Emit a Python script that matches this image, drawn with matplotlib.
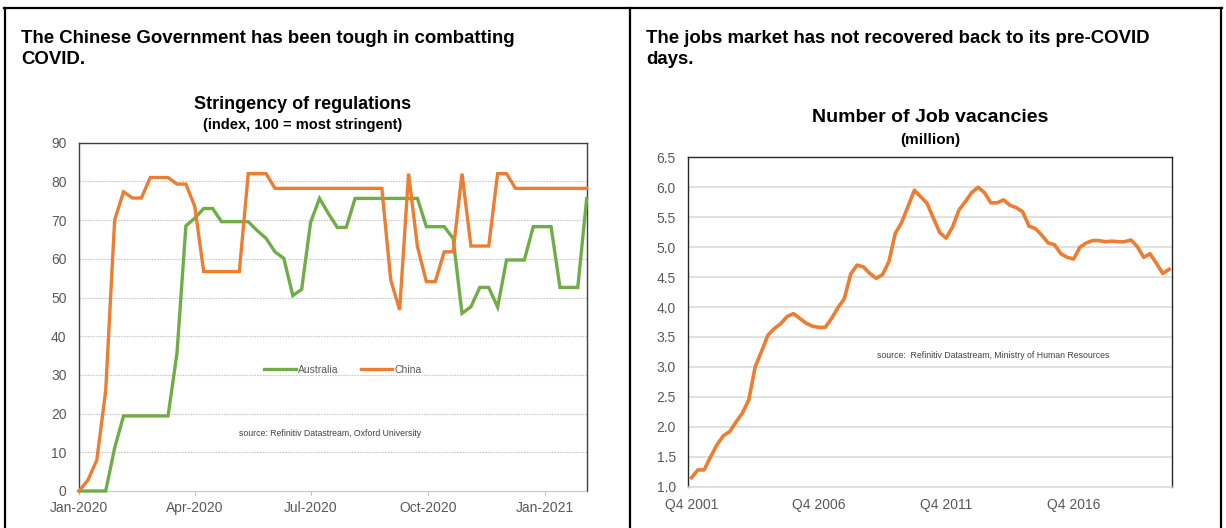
import matplotlib
matplotlib.use("Agg")
import matplotlib.pyplot as plt
import matplotlib.dates as mdates
from matplotlib.lines import Line2D
import pandas as pd
import numpy as np

# ---------------- data ----------------
week_start = "2020-01-01"
china = [0, 2.8, 8, 26, 70, 77.3, 75.7, 75.7, 81, 81, 81, 79.3, 79.3, 73.5,
         56.7, 56.7, 56.7, 56.7, 56.7, 82, 82, 82,
         78.2, 78.2, 78.2, 78.2, 78.2, 78.2, 78.2, 78.2, 78.2, 78.2, 78.2, 78.2, 78.2,
         54.5, 46.8, 82, 63.1, 54.1, 54.1, 61.8, 61.8, 82, 63.3, 63.3, 63.3, 82, 82,
         78.2, 78.2, 78.2, 78.2, 78.2, 78.2, 78.2, 78.2, 78.2]
australia = [0, 0, 0, 0, 11.1, 19.4, 19.4, 19.4, 19.4, 19.4, 19.4, 35.6, 68.5, 70.5,
             73, 73, 69.6, 69.6, 69.6, 69.6, 67.3, 65.3, 61.8, 60.1, 50.5, 52.1,
             69.4, 75.6, 71.7, 68.1, 68.1,
             75.6, 75.6, 75.6, 75.6, 75.6, 75.6, 75.6, 75.6,
             68.3, 68.3, 68.3, 65.3, 45.9, 47.6, 52.6, 52.6, 47.5,
             59.7, 59.7, 59.7, 68.3, 68.3, 68.3, 52.6, 52.6, 52.6, 75.6]
left_xticks = ["2020-01-01", "2020-04-01", "2020-07-01", "2020-10-01", "2021-01-01"]
left_yticks = [0, 10, 20, 30, 40, 50, 60, 70, 80, 90]

vacancies = [1.15, 1.28, 1.28, 1.50, 1.70, 1.85, 1.92, 2.08, 2.23, 2.45,
             3.00, 3.26, 3.53, 3.64, 3.72, 3.84, 3.89, 3.81, 3.73, 3.68,
             3.66, 3.66, 3.81, 3.99, 4.14, 4.55, 4.70, 4.67, 4.56, 4.48,
             4.54, 4.76, 5.23, 5.41, 5.68, 5.95, 5.84, 5.73, 5.48, 5.24,
             5.15, 5.34, 5.62, 5.76, 5.91, 6.00, 5.91, 5.74, 5.74, 5.79,
             5.70, 5.66, 5.59, 5.35, 5.31, 5.20, 5.07, 5.04, 4.89, 4.83,
             4.80, 5.00, 5.07, 5.11, 5.11, 5.09, 5.10, 5.09, 5.09, 5.12,
             5.01, 4.83, 4.89, 4.73, 4.56, 4.63]
first_year, first_q = 2001, 4
right_xticklabels = ["Q4 2001", "Q4 2006", "Q4 2011", "Q4 2016"]
right_yticks = [1.0, 1.5, 2.0, 2.5, 3.0, 3.5, 4.0, 4.5, 5.0, 5.5, 6.0, 6.5]

quarters = []
y, q = first_year, first_q
for _ in vacancies:
    quarters.append(f"Q{q} {y}")
    q += 1
    if q > 4:
        q = 1
        y += 1

dates = pd.date_range(week_start, periods=len(china), freq="7D")

# ---------------- style ----------------
ORANGE = "#ED7D31"
GREEN = "#70AD47"
TICKC = "#595959"
FONT = ["Liberation Sans", "DejaVu Sans"]
plt.rcParams["font.family"] = FONT

W, H = 1226, 528
fig = plt.figure(figsize=(W / 100, H / 100), dpi=100)
fig.patch.set_facecolor("white")

def fx(px):
    return px / W

def fy(py):
    return 1 - py / H

# panel frame lines
for (x0, y0, x1, y1) in [(4, 8, 1222, 8), (5, 8, 5, 528), (630, 8, 630, 528), (1221, 8, 1221, 528)]:
    fig.add_artist(Line2D([fx(x0), fx(x1)], [fy(y0), fy(y1)], color="black", lw=1.6,
                          transform=fig.transFigure))

# headers
HS = 13.4
fig.text(fx(21), fy(43), "The Chinese Government has been tough in combatting",
         fontsize=HS, fontweight="bold", ha="left", va="baseline", color="black")
fig.text(fx(21), fy(64), "COVID.", fontsize=HS, fontweight="bold", ha="left",
         va="baseline", color="black")
fig.text(fx(646), fy(43), "The jobs market has not recovered back to its pre-COVID",
         fontsize=HS, fontweight="bold", ha="left", va="baseline", color="black")
fig.text(fx(646), fy(64), "days.", fontsize=HS, fontweight="bold", ha="left",
         va="baseline", color="black")

# ---------------- left chart ----------------
ax1 = fig.add_axes([fx(79), fy(491), (586.7 - 79) / W, (491 - 142.7) / H])
ax1.plot(dates, australia, color=GREEN, lw=2.4, label="Australia", clip_on=False, zorder=3,
         solid_joinstyle="miter")
ax1.plot(dates, china, color=ORANGE, lw=2.4, label="China", clip_on=False, zorder=4,
         solid_joinstyle="miter")
ax1.set_xlim(dates[0], dates[-1])
ax1.set_ylim(0, 90)
ax1.set_yticks(left_yticks)
ax1.set_xticks(pd.to_datetime(left_xticks))
ax1.xaxis.set_major_formatter(mdates.DateFormatter("%b-%Y"))
ax1.yaxis.grid(True, color="#c8c8c8", linestyle=(0, (1.5, 1)), lw=0.8)
ax1.set_axisbelow(True)
for s in ["top", "left", "right"]:
    ax1.spines[s].set_color("#404040")
    ax1.spines[s].set_linewidth(1.0)
ax1.spines["bottom"].set_color("#c8c8c8")
ax1.spines["bottom"].set_linestyle((0, (1.5, 1)))
ax1.spines["bottom"].set_linewidth(0.8)
ax1.tick_params(axis="y", length=0, pad=9, labelsize=10, labelcolor=TICKC)
ax1.tick_params(axis="x", length=3, width=0.8, color="#bfbfbf", pad=4, labelsize=10,
                labelcolor=TICKC)

fig.text(fx(303), fy(109), "Stringency of regulations", fontsize=13, fontweight="bold",
         ha="center", va="baseline", color="black")
fig.text(fx(303), fy(129), "(index, 100 = most stringent)", fontsize=10.5, fontweight="bold",
         ha="center", va="baseline", color="black")

leg = ax1.legend(ncol=2, loc="center", bbox_to_anchor=(fx(343), fy(370)),
                 bbox_transform=fig.transFigure, frameon=False, fontsize=7.5,
                 handlelength=3.0, handletextpad=0.2, columnspacing=2.2,
                 labelcolor=TICKC)
fig.text(fx(330), fy(434), "source: Refinitiv Datastream, Oxford University", fontsize=6.3,
         ha="center", va="center", color="#404040")

# ---------------- right chart ----------------
ax2 = fig.add_axes([fx(688.3), fy(486.7), (1172.3 - 688.3) / W, (486.7 - 157.3) / H])
xq = np.arange(len(vacancies))
ax2.plot(xq, vacancies, color=ORANGE, lw=2.6, zorder=3)
ax2.set_xlim(-0.5, len(vacancies) - 0.5)
ax2.set_ylim(1.0, 6.5)
ax2.set_yticks(right_yticks)
ax2.set_yticklabels([f"{v:.1f}" for v in right_yticks])
ax2.set_xticks([quarters.index(lbl) for lbl in right_xticklabels])
ax2.set_xticklabels(right_xticklabels)
ax2.yaxis.grid(True, color="#d9d9d9", lw=1.1)
ax2.set_axisbelow(True)
for s in ["top", "left", "right"]:
    ax2.spines[s].set_color("#262626")
    ax2.spines[s].set_linewidth(1.0)
ax2.spines["bottom"].set_color("#d9d9d9")
ax2.spines["bottom"].set_linewidth(1.1)
ax2.tick_params(axis="y", length=0, pad=9, labelsize=10, labelcolor=TICKC)
ax2.tick_params(axis="x", length=0, pad=8, labelsize=10, labelcolor=TICKC)

fig.text(fx(930), fy(122), "Number of Job vacancies", fontsize=14, fontweight="bold",
         ha="center", va="baseline", color="black")
fig.text(fx(930), fy(144), "(million)", fontsize=11, fontweight="bold",
         ha="center", va="baseline", color="black")
fig.text(fx(993), fy(356), "source:  Refinitiv Datastream, Ministry of Human Resources",
         fontsize=6.3, ha="center", va="center", color="#404040")

fig.savefig("out.png", dpi=100, facecolor="white")
